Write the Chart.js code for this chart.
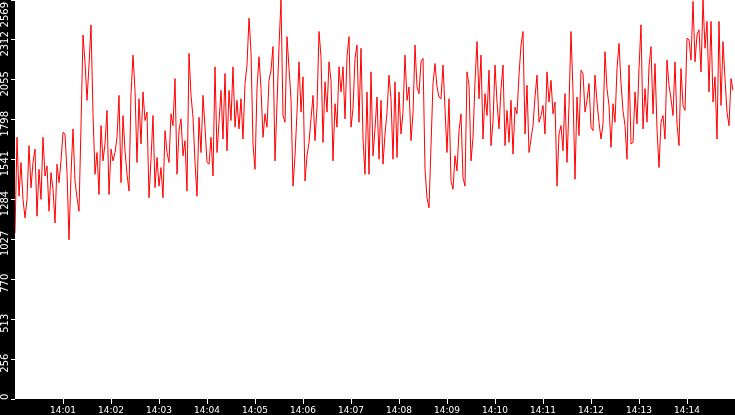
<!DOCTYPE html>
<html><head><meta charset="utf-8">
<script src="https://cdn.jsdelivr.net/npm/chart.js@4.4.1/dist/chart.umd.min.js"></script>
<style>html,body{margin:0;padding:0;background:#000;overflow:hidden}#wrap{width:735px;height:415px}canvas{display:block}</style>
</head><body><div id="wrap"><canvas id="c" width="735" height="415"></canvas></div>
<script>
// ---- data ----
const START_LABEL = '14:00';
const SAMPLE_STEP_SECONDS = 2.5;
const X_MAX_SECONDS = 900;
const seg1 = [1069,1685,1306,1523,1285,1166,1285,1631,1360,1523,1609,1177,1479,1285,1685,1436,1501,1209,1458,1350,1133,1512,1393,1533,1717,1706,1458,1025,1447,1739,1404,1296,1209,1760,2344,2171,1923,2150,2409,1836,1447,1587,1317,1760,1533];
const seg2 = [1642,1858,1317,1609,1533,1587,1685,1955,1393,1825,1598,1447,1339,1966,2214,1987,1523,1933,1642,1977,1793,1847,1296,1544,1825,1361,1555,1371,1490,1296,1728,1587,1523,1836,1760,2063,1447,1728,1804,1566,1663,1339,2225,1955,1815];
const seg3 = [1523,1306,1814,1587,1955,1750,1523,1512,1685,1436,2139,1587,1782,1987,1674,2096,1598,1987,1793,2139,1750,1923,1739,1933,1674,2031,2150,2452,2236,1642,1479,1998,2204,1998,1685,1836,1750,2052,2117,2269,1533,1901,2269,2569,1825];
const seg4 = [1782,2333,2128,1933,1371,1566,1847,2171,1847,2074,1404,1566,1652,1804,1955,1663,1879,2366,2204,1652,2042,1847,2171,2052,1533,1901,1750,2139,1977,2139,1804,2204,2333,1750,1869,2193,2279,1782,2258,1674,1447,1977,1447,2106,1566];
const seg5 = [1739,1944,1544,1923,1512,1706,1847,2085,1933,1544,2042,1555,1977,1706,1847,2214,1923,2009,1663,1836,2279,2009,1966,2171,2193,1479,1296,1231,1631,2031,2160,2009,1944,1933,2150,1869,1587,1933,1404,1350,1566,1469,1728,1836,1425];
const seg6 = [1371,2106,2020,1533,1685,2042,2301,1933,2214,1674,1966,1825,2117,1631,1782,2150,1912,1739,1998,2150,1631,1858,1652,1923,1577,1879,1836,2085,2279,2366,1706,2020,1587,1674,1760,1944,2085,1782,1825,1890,1706,2106,1912,2052,1836];
const seg7 = [1912,1371,1706,1760,1598,1966,1523,1890,2366,1977,1415,1944,1696,2117,2096,1847,1923,2031,1750,1728,2085,1912,1782,1674,1771,2236,1998,1890,1620,1901,1782,2128,2290,2031,1858,1760,1544,2150,1642,1652,1977,1771,2128,2409,1739];
const seg8 = [1998,1782,2139,2269,1836,2160,1739,1490,1782,1825,1674,2182,2020,1933,1825,2171,1771,1631,2128,1890,1858,2323,2312,2182,2560,2171,2344,2377,2106,2569,2258,2431,1977,2431,1912,2074,1674,2431,1890,2301,2063,1847,1760,2063,1987];
const xTickLabels = ['14:01','14:02','14:03','14:04','14:05','14:06','14:07','14:08','14:09','14:10','14:11','14:12','14:13','14:14'];
const yTickValues = [0,256.9,513.8,770.7,1027.6,1284.5,1541.4,1798.3,2055.2,2312.1,2569];
const yTickLabels = ['0','256','513','770','1027','1284','1541','1798','2055','2312','2569'];

// ---- build ----
const seriesValues = [].concat(seg1,seg2,seg3,seg4,seg5,seg6,seg7,seg8);
function toSeconds(lbl){
  const [h,m] = lbl.split(':').map(Number);
  const [h0,m0] = START_LABEL.split(':').map(Number);
  return ((h-h0)*60 + (m-m0))*60;
}
const points = seriesValues.map((v,i)=>({x:i*SAMPLE_STEP_SECONDS, y:v}));

const bgPlugin = {
  id:'bg',
  beforeDraw(chart){
    const {ctx, chartArea:a} = chart;
    ctx.save();
    ctx.fillStyle = '#000';
    ctx.fillRect(0,0,chart.width,chart.height);
    ctx.fillStyle = '#fff';
    ctx.fillRect(a.left, a.top, a.right-a.left, a.bottom-a.top);
    ctx.restore();
  }
};
const yLabelPlugin = {
  id:'yLabels',
  afterDraw(chart){
    const s = chart.scales.y, ctx = chart.ctx, a = chart.chartArea;
    ctx.save();
    ctx.fillStyle = '#fff';
    ctx.font = '10px "DejaVu Sans"';
    ctx.textAlign = 'center';
    ctx.textBaseline = 'middle';
    yTickValues.forEach((v,i)=>{
      const lbl = yTickLabels[i];
      const w = ctx.measureText(lbl).width;
      let c = s.getPixelForValue(v) + 4;
      c = Math.max(c, a.top + 2 + w/2);
      c = Math.min(c, a.bottom + 1 - w/2);
      ctx.save();
      ctx.translate(5.5, c);
      ctx.rotate(-Math.PI/2);
      ctx.fillText(lbl, 0, 0);
      ctx.restore();
    });
    ctx.restore();
  }
};

new Chart(document.getElementById('c').getContext('2d'), {
  type:'line',
  data:{datasets:[{data:points, borderColor:'#ff0000', borderWidth:1, pointRadius:0, tension:0, fill:false}]},
  options:{
    responsive:false, devicePixelRatio:1, animation:false,
    layout:{padding:0},
    plugins:{legend:{display:false}, tooltip:{enabled:false}, title:{display:false}},
    scales:{
      x:{
        type:'linear', min:0, max:X_MAX_SECONDS, position:'bottom',
        afterBuildTicks:s=>{ s.ticks = xTickLabels.map(l=>({value:toSeconds(l)})); },
        afterFit:s=>{ s.height = 16; },
        ticks:{color:'#fff', font:{family:'DejaVu Sans', size:9}, padding:1, maxRotation:0, minRotation:0, autoSkip:false,
               callback:(v,i)=>xTickLabels[i]},
        grid:{drawOnChartArea:false, drawTicks:true, tickLength:5, color:'#fff', lineWidth:1},
        border:{display:false}
      },
      y:{
        type:'linear', min:0, max:2569, position:'left',
        afterBuildTicks:s=>{ s.ticks = yTickValues.map(v=>({value:v})); },
        afterFit:s=>{ s.width = 15; },
        ticks:{display:false},
        grid:{drawOnChartArea:false, drawTicks:true, tickLength:4, color:'#fff', lineWidth:1},
        border:{display:false}
      }
    }
  },
  plugins:[bgPlugin, yLabelPlugin]
});
</script>
</body></html>
